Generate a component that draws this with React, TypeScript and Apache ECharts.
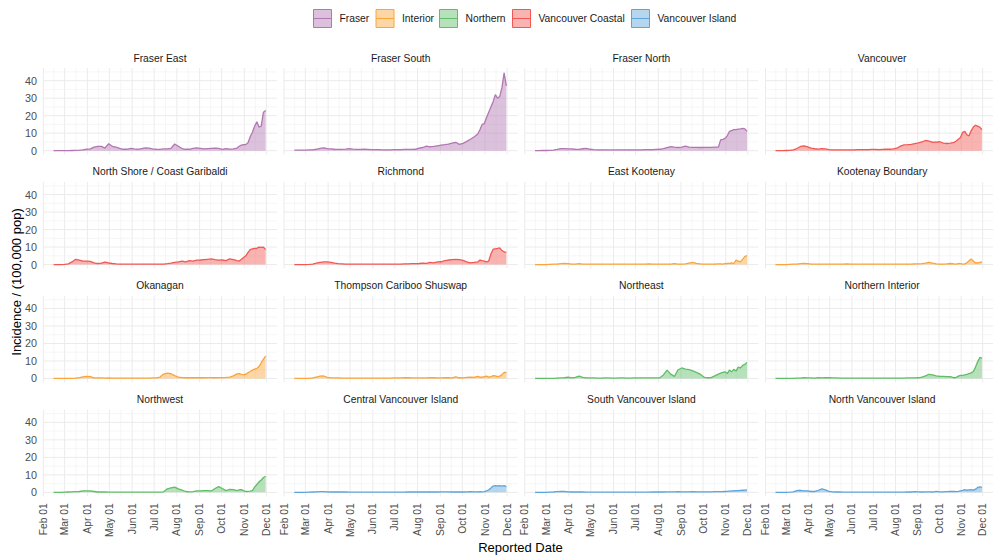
import React, { useEffect, useRef } from 'react';
import * as echarts from 'echarts';

// ---------- data ----------
const REGIONS = ['Fraser', 'Interior', 'Northern', 'Vancouver Coastal', 'Vancouver Island'];
const REGION_COLORS = ['#B276B2', '#FAA43A', '#60BD68', '#F15854', '#5DA5DA'];

const PANELS = [
  'Fraser East', 'Fraser South', 'Fraser North', 'Vancouver',
  'North Shore / Coast Garibaldi', 'Richmond', 'East Kootenay', 'Kootenay Boundary',
  'Okanagan', 'Thompson Cariboo Shuswap', 'Northeast', 'Northern Interior',
  'Northwest', 'Central Vancouver Island', 'South Vancouver Island', 'North Vancouver Island',
];
const PANEL_REGION = [0, 0, 0, 3, 3, 3, 1, 1, 1, 1, 2, 2, 2, 4, 4, 4];

const DATES = [
  '2020-02-15', '2020-02-20', '2020-02-25', '2020-03-01', '2020-03-06', '2020-03-11', '2020-03-16', '2020-03-21', '2020-03-26', '2020-03-31',
  '2020-04-05', '2020-04-10', '2020-04-15', '2020-04-20', '2020-04-25', '2020-04-30', '2020-05-05', '2020-05-10', '2020-05-15', '2020-05-20',
  '2020-05-25', '2020-05-30', '2020-06-04', '2020-06-09', '2020-06-14', '2020-06-19', '2020-06-24', '2020-06-29', '2020-07-04', '2020-07-09',
  '2020-07-14', '2020-07-19', '2020-07-24', '2020-07-29', '2020-08-03', '2020-08-08', '2020-08-13', '2020-08-18', '2020-08-23', '2020-08-28',
  '2020-09-02', '2020-09-07', '2020-09-12', '2020-09-17', '2020-09-22', '2020-09-27', '2020-10-02', '2020-10-07', '2020-10-12', '2020-10-17',
  '2020-10-22', '2020-10-25', '2020-10-28', '2020-10-31', '2020-11-03', '2020-11-06', '2020-11-09', '2020-11-12', '2020-11-15', '2020-11-18',
  '2020-11-21', '2020-11-24', '2020-11-27', '2020-11-30',
];

const FRASER_EAST = [
  0, 0, 0, 0, 0, 0.1, 0.2, 0.3, 0.5, 0.8,
  1.0, 2.0, 2.5, 2.5, 1.5, 4.0, 2.5, 2.0, 1.3, 0.8,
  0.8, 1.3, 1.0, 0.8, 1.2, 1.6, 1.5, 1.0, 0.8, 0.7,
  1.0, 1.0, 1.3, 3.8, 2.5, 1.2, 0.8, 0.8, 1.3, 1.6,
  1.3, 1.0, 1.2, 1.3, 1.4, 1.3, 0.8, 1.2, 0.9, 1.0,
  1.5, 2.5, 3.2, 3.5, 3.5, 4.5, 8, 10.5, 14, 16.5,
  13.5, 14, 22, 23,
];
const FRASER_SOUTH = [
  0.3, 0.3, 0.3, 0.3, 0.4, 0.5, 0.8, 1.3, 1.6, 1.2,
  1.0, 0.8, 0.7, 0.7, 0.9, 1.2, 0.9, 0.7, 0.7, 0.8,
  0.7, 0.6, 0.6, 0.6, 0.5, 0.5, 0.5, 0.6, 0.6, 0.6,
  0.7, 0.7, 0.7, 0.8, 1.5, 1.8, 2.6, 2.2, 2.4, 2.8,
  3.2, 3.4, 3.8, 4.3, 4.8, 3.6, 4.2, 5.3, 6.5, 7.8,
  9.5, 12, 15, 15.5, 19, 22, 25, 28, 32, 30,
  31, 36, 44.5, 37,
];
const FRASER_NORTH = [
  0, 0, 0.1, 0.1, 0.2, 0.3, 0.7, 1.2, 1.2, 1.0,
  1.0, 0.8, 0.7, 1.1, 1.3, 0.8, 0.6, 0.5, 0.5, 0.5,
  0.4, 0.4, 0.4, 0.4, 0.5, 0.5, 0.5, 0.5, 0.5, 0.5,
  0.6, 0.6, 0.6, 0.7, 0.8, 1.2, 1.8, 2.3, 2.0, 1.8,
  2.0, 2.6, 2.0, 1.9, 1.9, 1.8, 1.9, 1.9, 1.9, 2.0,
  2.0, 6.2, 6.5, 7.0, 8.5, 11, 11.5, 12, 12, 12.3,
  12.5, 12.8, 12.5, 11,
];
const VANCOUVER = [
  0, 0, 0, 0.1, 0.2, 0.5, 1.2, 2.4, 2.8, 2.2,
  1.5, 1.1, 0.9, 1.2, 1.0, 0.6, 0.5, 0.4, 0.4, 0.4,
  0.4, 0.4, 0.5, 0.6, 0.6, 0.6, 0.6, 0.7, 0.7, 0.6,
  0.7, 0.8, 0.8, 1.0, 1.4, 2.6, 3.3, 3.4, 3.6, 4.0,
  4.4, 5.0, 5.8, 5.5, 4.8, 4.9, 5.1, 4.3, 4.1, 4.3,
  4.8, 5.5, 6.5, 7.5, 10.5, 11, 9, 8.5, 11.5, 13.5,
  14.5, 14, 13.5, 12,
];
const NORTH_SHORE_COAST_GARIBALDI = [
  0, 0, 0, 0.1, 0.4, 1.5, 3.0, 2.6, 2.0, 2.0,
  1.8, 1.0, 0.6, 0.8, 1.4, 0.9, 0.6, 0.4, 0.3, 0.2,
  0.2, 0.2, 0.2, 0.2, 0.2, 0.2, 0.2, 0.2, 0.3, 0.3,
  0.3, 0.5, 0.8, 1.2, 1.5, 2.0, 1.6, 2.2, 2.0, 2.5,
  2.6, 2.8, 3.0, 3.2, 2.8, 2.5, 2.6, 2.3, 3.2, 2.8,
  2.2, 2.0, 3.0, 4.0, 5.0, 7.0, 8.5, 9.0, 9.2, 9.3,
  10.0, 9.8, 10.0, 8.5,
];
const RICHMOND = [
  0, 0, 0, 0, 0.1, 0.3, 0.8, 1.3, 1.5, 1.5,
  1.2, 0.8, 0.5, 0.4, 0.3, 0.3, 0.2, 0.2, 0.2, 0.2,
  0.2, 0.2, 0.2, 0.2, 0.2, 0.2, 0.3, 0.3, 0.3, 0.3,
  0.4, 0.4, 0.5, 0.5, 0.6, 0.8, 0.7, 1.2, 1.0, 1.5,
  1.6, 2.2, 2.6, 2.8, 3.0, 2.8, 2.4, 1.5, 1.0, 1.2,
  1.5, 2.6, 2.2, 2.0, 1.6, 2.0, 6.0, 8.8, 9.0, 9.2,
  9.5, 8.0, 7.2, 7.0,
];
const EAST_KOOTENAY = [
  0, 0, 0, 0, 0.1, 0.2, 0.3, 0.5, 0.6, 0.5,
  0.2, 0.2, 0.5, 0.3, 0.2, 0.2, 0.3, 0.2, 0.2, 0.2,
  0.2, 0.2, 0.3, 0.2, 0.2, 0.2, 0.2, 0.2, 0.2, 0.2,
  0.2, 0.4, 0.2, 0.2, 0.3, 0.3, 0.2, 0.3, 0.5, 0.3,
  0.3, 0.4, 0.8, 1.2, 0.7, 0.4, 0.3, 0.2, 0.3, 0.3,
  0.4, 0.4, 0.3, 0.5, 0.6, 0.7, 0.9, 0.6, 2.5, 2.0,
  1.5, 3.0, 4.5, 5.2,
];
const KOOTENAY_BOUNDARY = [
  0, 0, 0, 0, 0.1, 0.2, 0.3, 0.5, 0.7, 0.5,
  0.3, 0.2, 0.2, 0.3, 0.2, 0.2, 0.3, 0.2, 0.2, 0.2,
  0.4, 0.2, 0.2, 0.2, 0.2, 0.2, 0.2, 0.2, 0.2, 0.2,
  0.2, 0.2, 0.2, 0.2, 0.2, 0.2, 0.2, 0.3, 0.3, 0.4,
  0.4, 0.5, 0.8, 1.3, 0.8, 0.4, 0.3, 0.3, 0.4, 0.6,
  0.4, 0.3, 0.6, 0.5, 0.3, 0.4, 1.0, 2.2, 3.2, 2.0,
  0.9, 0.9, 1.2, 1.5,
];
const OKANAGAN = [
  0, 0, 0, 0, 0, 0.1, 0.2, 0.5, 0.9, 1.2,
  1.1, 0.3, 0.3, 0.3, 0.2, 0.3, 0.2, 0.2, 0.2, 0.2,
  0.2, 0.2, 0.2, 0.2, 0.2, 0.2, 0.2, 0.3, 0.3, 0.8,
  2.5, 3.0, 2.7, 1.6, 0.8, 0.5, 0.4, 0.4, 0.4, 0.5,
  0.4, 0.4, 0.5, 0.5, 0.4, 0.5, 0.5, 0.6, 0.8, 1.5,
  2.6, 2.8, 2.3, 2.2, 2.4, 3.3, 4.0, 4.8, 5.3, 5.8,
  6.8, 9.0, 11.0, 12.8,
];
const THOMPSON_CARIBOO_SHUSWAP = [
  0, 0, 0, 0, 0.1, 0.3, 0.8, 1.3, 1.4, 0.6,
  0.3, 0.3, 0.3, 0.2, 0.2, 0.2, 0.2, 0.2, 0.2, 0.2,
  0.2, 0.2, 0.2, 0.2, 0.2, 0.2, 0.2, 0.3, 0.3, 0.3,
  0.4, 0.5, 0.3, 0.3, 0.3, 0.3, 0.3, 0.4, 0.5, 0.3,
  0.3, 0.4, 0.4, 0.3, 0.9, 0.4, 0.3, 0.6, 0.8, 0.6,
  1.2, 0.8, 0.7, 1.0, 1.3, 0.8, 1.0, 1.6, 1.5, 1.0,
  1.3, 2.2, 3.5, 3.4,
];
const NORTHEAST = [
  0, 0, 0, 0, 0.1, 0.1, 0.2, 0.3, 0.4, 0.7,
  0.3, 0.6, 1.3, 0.6, 0.3, 0.3, 0.3, 0.2, 0.2, 0.3,
  0.3, 0.2, 0.2, 0.3, 0.3, 0.2, 0.2, 0.3, 0.3, 0.3,
  0.3, 0.3, 0.3, 0.3, 0.4, 2.0, 4.8, 2.5, 1.2, 5.0,
  6.0, 5.3, 5.0, 4.3, 3.5, 2.5, 0.8, 0.4, 0.5, 1.5,
  2.5, 3.0, 3.5, 3.8, 2.8, 4.8, 3.8, 5.2, 4.2, 6.5,
  6.0, 7.5, 8.0, 9.2,
];
const NORTHERN_INTERIOR = [
  0, 0, 0, 0, 0.1, 0.1, 0.2, 0.2, 0.4, 0.3,
  0.3, 0.2, 0.5, 0.3, 0.4, 0.5, 0.3, 0.3, 0.2, 0.2,
  0.2, 0.2, 0.2, 0.2, 0.2, 0.2, 0.2, 0.2, 0.2, 0.2,
  0.2, 0.2, 0.2, 0.2, 0.2, 0.2, 0.2, 0.3, 0.3, 0.3,
  0.4, 0.8, 1.5, 2.4, 2.0, 1.5, 1.2, 1.2, 1.1, 1.0,
  0.4, 0.6, 1.3, 1.8, 1.8, 2.0, 2.3, 2.8, 3.2, 4.0,
  6.5, 9.5, 12.0, 11.5,
];
const NORTHWEST = [
  0, 0, 0, 0.1, 0.2, 0.3, 0.4, 0.5, 0.9, 0.9,
  0.8, 0.5, 0.2, 0.2, 0.2, 0.1, 0.1, 0.1, 0.1, 0.1,
  0.1, 0.1, 0.1, 0.1, 0.1, 0.1, 0.1, 0.1, 0.1, 0.1,
  0.3, 2.0, 2.5, 3.0, 2.0, 1.3, 0.5, 0.3, 0.4, 0.9,
  0.8, 1.0, 1.0, 0.8, 2.2, 3.3, 2.2, 1.0, 1.7, 1.6,
  1.0, 1.5, 1.6, 1.0, 0.5, 0.6, 0.7, 1.0, 3.0, 4.5,
  6.0, 7.0, 8.5, 9.2,
];
const CENTRAL_VANCOUVER_ISLAND = [
  0, 0, 0, 0, 0.1, 0.2, 0.3, 0.4, 0.4, 0.3,
  0.2, 0.2, 0.2, 0.2, 0.2, 0.1, 0.1, 0.1, 0.1, 0.1,
  0.1, 0.1, 0.1, 0.1, 0.1, 0.1, 0.1, 0.1, 0.1, 0.1,
  0.1, 0.2, 0.2, 0.2, 0.2, 0.2, 0.2, 0.3, 0.2, 0.2,
  0.3, 0.3, 0.3, 0.2, 0.2, 0.3, 0.2, 0.3, 0.4, 0.3,
  0.3, 0.4, 0.3, 0.4, 0.8, 1.5, 2.5, 3.6, 3.8, 3.7,
  3.8, 3.5, 3.8, 3.3,
];
const SOUTH_VANCOUVER_ISLAND = [
  0, 0, 0, 0, 0.1, 0.2, 0.4, 0.5, 0.5, 0.3,
  0.2, 0.2, 0.2, 0.2, 0.1, 0.1, 0.1, 0.1, 0.1, 0.1,
  0.1, 0.1, 0.1, 0.1, 0.1, 0.1, 0.1, 0.1, 0.1, 0.1,
  0.1, 0.1, 0.2, 0.2, 0.2, 0.2, 0.3, 0.3, 0.3, 0.4,
  0.3, 0.3, 0.3, 0.4, 0.3, 0.3, 0.3, 0.3, 0.3, 0.4,
  0.4, 0.4, 0.4, 0.5, 0.6, 0.7, 0.8, 0.9, 1.0, 1.0,
  1.1, 1.2, 1.3, 1.4,
];
const NORTH_VANCOUVER_ISLAND = [
  0, 0, 0, 0, 0.1, 0.3, 1.0, 1.2, 0.8, 0.9,
  0.5, 0.5, 1.2, 2.0, 1.4, 0.6, 0.3, 0.2, 0.2, 0.1,
  0.1, 0.1, 0.1, 0.1, 0.1, 0.1, 0.1, 0.1, 0.1, 0.1,
  0.1, 0.1, 0.1, 0.1, 0.1, 0.1, 0.1, 0.2, 0.2, 0.4,
  0.3, 0.2, 0.3, 0.3, 0.2, 0.6, 0.3, 0.3, 0.4, 0.5,
  0.6, 0.4, 0.6, 0.9, 1.1, 1.5, 1.2, 1.4, 1.6, 1.3,
  1.8, 2.8, 3.1, 2.8,
];

const PANEL_VALUES = [
  FRASER_EAST, FRASER_SOUTH, FRASER_NORTH, VANCOUVER,
  NORTH_SHORE_COAST_GARIBALDI, RICHMOND, EAST_KOOTENAY, KOOTENAY_BOUNDARY,
  OKANAGAN, THOMPSON_CARIBOO_SHUSWAP, NORTHEAST, NORTHERN_INTERIOR,
  NORTHWEST, CENTRAL_VANCOUVER_ISLAND, SOUTH_VANCOUVER_ISLAND, NORTH_VANCOUVER_ISLAND,
];

// axis breaks / tick labels
const X_BREAKS = [
  '2020-02-01', '2020-03-01', '2020-04-01', '2020-05-01', '2020-06-01', '2020-07-01',
  '2020-08-01', '2020-09-01', '2020-10-01', '2020-11-01', '2020-12-01',
];
const X_TICK_LABELS = ['Feb 01', 'Mar 01', 'Apr 01', 'May 01', 'Jun 01', 'Jul 01', 'Aug 01', 'Sep 01', 'Oct 01', 'Nov 01', 'Dec 01'];
const Y_BREAKS = [0, 10, 20, 30, 40];
const Y_MINOR = [5, 15, 25, 35, 45];
const X_LIMITS = ['2020-01-31T12:00:00', '2020-12-15T12:00:00'];
const Y_LIMITS = [-2.25, 47.25];

const X_TITLE = 'Reported Date';
const Y_TITLE = 'Incidence / (100,000 pop)';

// ---------- layout ----------
const FONT = '"Liberation Sans", Arial, Helvetica, sans-serif';
const GRID_LEFT = 43;
const COL_PITCH = 240.7;
const GRID_W = 234;
const GRID_TOP = 68;
const ROW_PITCH = 113.9;
const GRID_H = 86.6;
const LEGEND_X = [313.5, 376, 439.5, 512.5, 631.5];

function ts(s: string): number {
  const [d, t] = s.split('T');
  const [y, m, dd] = d.split('-').map(Number);
  let h = 0;
  if (t) h = Number(t.split(':')[0]);
  return new Date(y, m - 1, dd, h).getTime();
}

function hexToRgba(hex: string, a: number): string {
  const n = parseInt(hex.slice(1), 16);
  return `rgba(${(n >> 16) & 255},${(n >> 8) & 255},${n & 255},${a})`;
}

export default function App() {
  const ref = useRef<HTMLDivElement>(null);

  useEffect(() => {
    if (!ref.current) return;
    const chart = echarts.init(ref.current, undefined, { renderer: 'svg' });

    const xMin = ts(X_LIMITS[0]);
    const xMax = ts(X_LIMITS[1]);
    const xBreakTs = X_BREAKS.map(ts);
    const xMinorTs = xBreakTs.slice(0, -1).map((v, i) => (v + xBreakTs[i + 1]) / 2);
    const labelByTs: Record<string, string> = {};
    xBreakTs.forEach((v, i) => { labelByTs[String(v)] = X_TICK_LABELS[i]; });

    const gridData: any[] = [];
    xBreakTs.forEach((v) => gridData.push([v, 0, 0, 1]));
    xMinorTs.forEach((v) => gridData.push([v, 0, 0, 0]));
    Y_BREAKS.forEach((v) => gridData.push([xMin, v, 1, 1]));
    Y_MINOR.forEach((v) => gridData.push([xMin, v, 1, 0]));

    const grids: any[] = [];
    const xAxes: any[] = [];
    const yAxes: any[] = [];
    const series: any[] = [];
    const graphics: any[] = [];

    PANELS.forEach((name, k) => {
      const r = Math.floor(k / 4);
      const c = k % 4;
      const left = GRID_LEFT + c * COL_PITCH;
      const top = GRID_TOP + r * ROW_PITCH;
      grids.push({ left, top, width: GRID_W, height: GRID_H, containLabel: false });
      xAxes.push({
        type: 'value',
        gridIndex: k,
        min: xMin,
        max: xMax,
        axisLine: { show: false },
        axisTick: { show: false },
        splitLine: { show: false },
        axisLabel: {
          show: r === 3,
          rotate: 90,
          margin: 7,
          fontSize: 10.3,
          color: '#4D4D4D',
          fontFamily: FONT,
          customValues: xBreakTs,
          hideOverlap: false,
          showMinLabel: true,
          showMaxLabel: true,
          formatter: (v: number) => labelByTs[String(v)] ?? '',
        },
      });
      yAxes.push({
        type: 'value',
        gridIndex: k,
        min: Y_LIMITS[0],
        max: Y_LIMITS[1],
        axisLine: { show: false },
        axisTick: { show: false },
        splitLine: { show: false },
        axisLabel: {
          show: c === 0,
          margin: 6,
          fontSize: 10.8,
          color: '#4D4D4D',
          fontFamily: FONT,
          customValues: Y_BREAKS,
          formatter: (v: number) => (Y_BREAKS.indexOf(v) >= 0 ? String(v) : ''),
        },
      });
      series.push({
        type: 'custom',
        xAxisIndex: k,
        yAxisIndex: k,
        silent: true,
        z: 0,
        encode: { x: 0, y: 1 },
        data: gridData,
        renderItem: (params: any, api: any) => {
          const cs = params.coordSys;
          const dir = api.value(2);
          const major = api.value(3);
          const style = { stroke: major ? '#EBEBEB' : '#F2F2F2', lineWidth: major ? 1 : 0.7, fill: null };
          if (dir === 0) {
            const px = api.coord([api.value(0), 0])[0];
            return { type: 'line', shape: { x1: px, y1: cs.y, x2: px, y2: cs.y + cs.height }, style };
          }
          const py = api.coord([xMin, api.value(1)])[1];
          return { type: 'line', shape: { x1: cs.x, y1: py, x2: cs.x + cs.width, y2: py }, style };
        },
      });
      const color = REGION_COLORS[PANEL_REGION[k]];
      series.push({
        type: 'line',
        name: REGIONS[PANEL_REGION[k]],
        xAxisIndex: k,
        yAxisIndex: k,
        z: 2,
        showSymbol: false,
        symbol: 'none',
        silent: true,
        data: DATES.map((d, i) => [ts(d), PANEL_VALUES[k][i]]),
        lineStyle: { color, width: 1.3 },
        itemStyle: { color },
        areaStyle: { color: hexToRgba(color, 0.45), opacity: 1 },
      });
      graphics.push({
        type: 'text',
        x: left + GRID_W / 2,
        y: top - 10,
        silent: true,
        style: { text: name, align: 'center', verticalAlign: 'middle', fontSize: 10.3, fontFamily: FONT, fill: '#1A1A1A' },
      });
    });

    REGIONS.forEach((reg, j) => {
      const x = LEGEND_X[j];
      const color = REGION_COLORS[j];
      graphics.push({
        type: 'rect',
        shape: { x: x, y: 9.5, width: 18, height: 18 },
        silent: true,
        style: { fill: hexToRgba(color, 0.45), stroke: color, lineWidth: 1 },
      });
      graphics.push({
        type: 'line',
        shape: { x1: x, y1: 18.5, x2: x + 18, y2: 18.5 },
        silent: true,
        style: { stroke: color, lineWidth: 1 },
      });
      graphics.push({
        type: 'text',
        x: x + 26,
        y: 18.8,
        silent: true,
        style: { text: reg, align: 'left', verticalAlign: 'middle', fontSize: 10.3, fontFamily: FONT, fill: '#1A1A1A' },
      });
    });

    graphics.push({
      type: 'text',
      x: 520.5,
      y: 547,
      silent: true,
      style: { text: X_TITLE, align: 'center', verticalAlign: 'middle', fontSize: 13, fontFamily: FONT, fill: '#000' },
    });
    graphics.push({
      type: 'text',
      x: 16.7,
      y: 282,
      rotation: Math.PI / 2,
      silent: true,
      style: { text: Y_TITLE, align: 'center', verticalAlign: 'middle', fontSize: 13, fontFamily: FONT, fill: '#000' },
    });

    chart.setOption({
      animation: false,
      backgroundColor: '#ffffff',
      grid: grids,
      xAxis: xAxes,
      yAxis: yAxes,
      series,
      graphic: graphics,
    });

    return () => chart.dispose();
  }, []);

  return <div ref={ref} style={{ position: 'fixed', left: 0, top: 0, width: 993, height: 556 }} />;
}
